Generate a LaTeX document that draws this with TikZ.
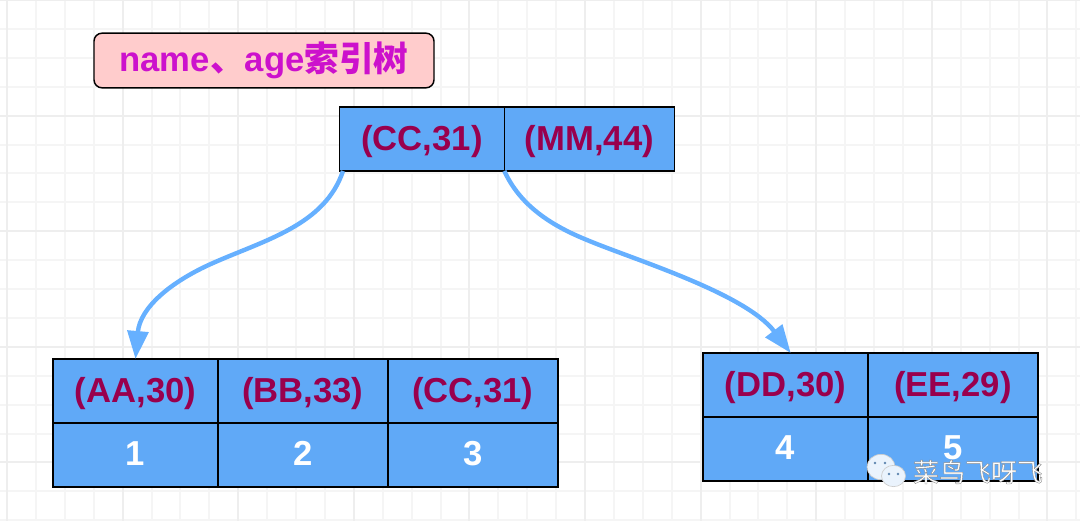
\documentclass[tikz,border=0pt]{standalone}
\usepackage{xcolor}
\usepackage{fontspec}
\setmainfont{Liberation Sans}
\newfontfamily\cjk{Noto Sans CJK SC}
\usetikzlibrary{shapes.geometric,arrows.meta,positioning}
\definecolor{cellblue}{HTML}{60A9F7}
\definecolor{curveblue}{HTML}{66B0FF}
\definecolor{keytext}{HTML}{99004D}
\definecolor{titletext}{HTML}{CC11CC}
\definecolor{titlefill}{HTML}{FFCCCC}
\definecolor{gridminor}{HTML}{F5F5F5}
\definecolor{gridmajor}{HTML}{EEEEEE}
\definecolor{bubbleback}{HTML}{EAF3FD}
\definecolor{bubbleeye}{HTML}{5F86B0}
\begin{document}
\begin{tikzpicture}[x=0.75pt,y=-0.75pt,
cell/.style={draw=black,line width=1.1pt,fill=cellblue,inner sep=0pt,outer sep=0pt,minimum height=48pt,text height=18pt,text depth=1.5pt,font=\fontsize{26}{26}\selectfont\bfseries},
keycell/.style={cell,text=keytext},
idcell/.style={cell,text=white,text depth=2.8pt},
wide/.style={minimum width=127.5pt},
narrow/.style={minimum width=123.5pt},
arr/.style={-{Triangle[length=21pt,width=15.5pt]},draw=curveblue,line width=3.3pt},
bubble/.style={ellipse,draw=gray!40,line width=.5pt,fill=bubbleback,inner sep=0pt,outer sep=0pt},
eye/.style={circle,fill=bubbleeye,inner sep=0pt,minimum size=2.2pt}]
\useasboundingbox (0,0) rectangle (1080,521);
% background grid
\foreach \i in {0,...,37} \draw[gridminor,line width=1.5pt] (7+28.9*\i,0)--(7+28.9*\i,521);
\foreach \i in {0,...,18} \draw[gridminor,line width=1.5pt] (0,28.9*\i)--(1080,28.9*\i);
\foreach \i in {0,...,9} \draw[gridmajor,line width=1.6pt] (7+115.6*\i,0)--(7+115.6*\i,521);
\foreach \i in {0,...,4} \draw[gridmajor,line width=1.6pt] (0,115.6*\i)--(1080,115.6*\i);
% title
\node[draw=black,line width=1.1pt,rounded corners=6pt,fill=titlefill,text=titletext,inner sep=0pt,minimum width=255pt,minimum height=41pt,text height=18pt,text depth=1.5pt,font=\fontsize{26}{26}\selectfont\bfseries] (title) at (264,60.5) {name{\cjk 、}age{\cjk 索引树}};
% root
\node[keycell,narrow] (cc) at (422,139) {(CC,31)};
\node[keycell,wide,right=0pt of cc] (mm) {(MM,44)};
% left leaf
\node[keycell,narrow] (aa) at (135.5,391) {(AA,30)};
\node[keycell,wide,right=0pt of aa] (bb) {(BB,33)};
\node[keycell,wide,right=0pt of bb] (cc2) {(CC,31)};
\node[idcell,narrow,below=0pt of aa] (one) {1};
\node[idcell,wide,below=0pt of bb] (two) {2};
\node[idcell,wide,below=0pt of cc2] (three) {3};
% right leaf
\node[keycell,narrow] (dd) at (785.5,385) {(DD,30)};
\node[keycell,wide,right=0pt of dd] (ee) {(EE,29)};
\node[idcell,narrow,below=0pt of dd] (four) {4};
\node[idcell,wide,below=0pt of ee] (five) {5};
% links
\draw[arr] ([xshift=2.5pt]cc.south west) .. controls (325,225) and (265,240) .. (213,263) .. controls (170,282) and (140,308) .. (aa.north);
\draw[arr] (cc.south east) .. controls (520,205) and (550,225) .. (587,240) .. controls (632,259) and (745,293) .. ([xshift=3.9pt]dd.north);
% watermark
\node[bubble,minimum width=21pt,minimum height=19pt] (wechatback) at (881,467) {};
\node[bubble,minimum width=18pt,minimum height=16pt] (wechatfront) at (893.5,476) {};
\node[eye] (eyeone) at (875,463) {};
\node[eye] (eyetwo) at (885,463) {};
\node[eye] (eyethree) at (889,474) {};
\node[eye] (eyefour) at (898,474) {};
\node[text=white,font=\cjk\fontsize{19.5}{20}\selectfont] (mark) at (978,472) {\special{pdf:code 2 Tr 0.3 w 0.55 0.55 0.55 RG}菜鸟飞呀飞\special{pdf:code 0 Tr}};
\end{tikzpicture}
\end{document}
